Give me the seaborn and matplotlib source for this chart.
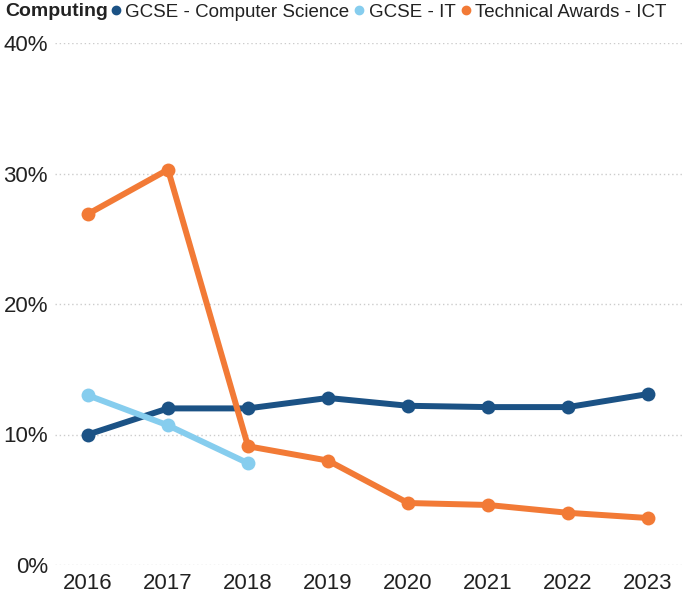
import matplotlib
matplotlib.use("Agg")
import matplotlib.pyplot as plt
import seaborn as sns
import pandas as pd
from matplotlib.lines import Line2D

years = [2016, 2017, 2018, 2019, 2020, 2021, 2022, 2023]
cs = [10.0, 12.0, 12.0, 12.8, 12.2, 12.1, 12.1, 13.1]
it_years = [2016, 2017, 2018]
it = [13.0, 10.7, 7.8]
ict = [26.9, 30.3, 9.1, 8.0, 4.75, 4.6, 4.0, 3.6]
series = ["GCSE - Computer Science", "GCSE - IT", "Technical Awards - ICT"]
colors = ["#1b5285", "#86cdee", "#f27a36"]
yticks = [0, 10, 20, 30, 40]

rows = []
for y, v in zip(years, cs):
    rows.append((y, v, series[0]))
for y, v in zip(it_years, it):
    rows.append((y, v, series[1]))
for y, v in zip(years, ict):
    rows.append((y, v, series[2]))
df = pd.DataFrame(rows, columns=["year", "value", "series"])

sns.set_style("white")
plt.rcParams["font.family"] = ["Liberation Sans", "DejaVu Sans"]

fig = plt.figure(figsize=(6.84, 6.0), dpi=100)
ax = fig.add_axes([55/684, 35/600, 629/684, 522/600])

palette = dict(zip(series, colors))
sns.lineplot(data=df, x="year", y="value", hue="series", palette=palette,
             marker="o", markersize=10, markeredgewidth=0, linewidth=4.3,
             legend=False, ax=ax, hue_order=series)

ax.set_ylim(0, 40)
ax.set_xlim(2016 - 33/80, 2023 + 36/80)
ax.set_yticks(yticks)
ax.set_yticklabels([f"{t}%" for t in yticks])
ax.set_xticks(years)
ax.set_xticklabels([str(y) for y in years])
ax.tick_params(axis="both", labelsize=16, length=0, colors="#222222")
ax.tick_params(axis="y", pad=5)
ax.tick_params(axis="x", pad=6)
ax.set_xlabel("")
ax.set_ylabel("")
for s in ax.spines.values():
    s.set_visible(False)
ax.yaxis.grid(True, color="#cccccc", linestyle=(0, (1, 2)), linewidth=1)
ax.set_axisbelow(True)

fig.text(5/684, 1 - 12/600, "Computing", fontsize=14, fontweight="bold",
         va="center", ha="left", color="#222222")
handles = [Line2D([], [], marker="o", linestyle="", color=c, markersize=6) for c in colors]
fig.legend(handles, series, loc="center left", bbox_to_anchor=(110/684, 1 - 12/600),
           ncol=3, frameon=False, fontsize=13.5, handlelength=0.6, handletextpad=0.2,
           columnspacing=0.25, borderaxespad=0, borderpad=0, labelcolor="#222222")

fig.savefig("out.png", dpi=100)
